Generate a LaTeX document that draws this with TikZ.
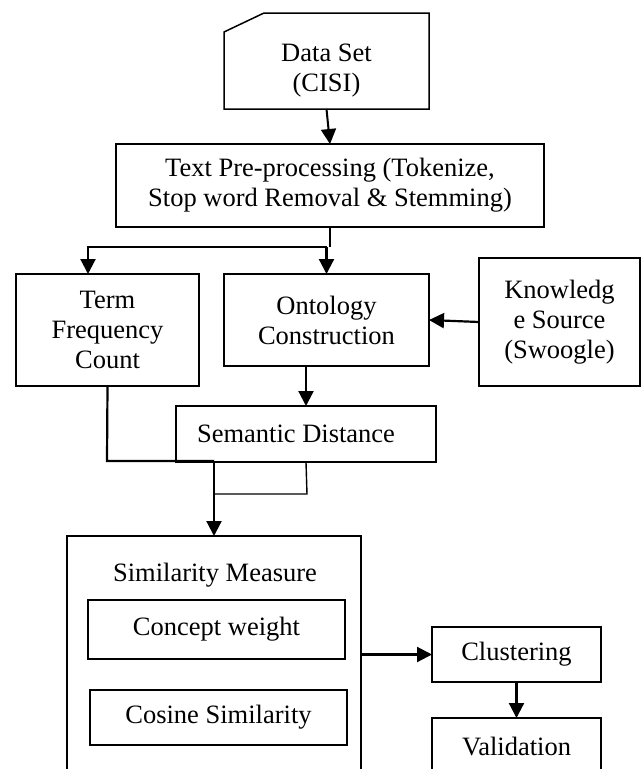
\documentclass[tikz,border=0pt]{standalone}
\usepackage{fontspec}
\setmainfont{Liberation Serif}
\usetikzlibrary{arrows.meta}
\begin{document}
\begin{tikzpicture}[x=1pt,y=-1pt,
  boxline/.style={draw=black,line width=1.5pt},
  lbl/.style={inner sep=0pt,outer sep=0pt,align=center,font=\fontsize{26.5}{30}\selectfont},
  frame/.style={lbl,rectangle},
  conn/.style={line width=2.2pt},
  thinconn/.style={line width=1.4pt},
  arr/.style={conn,-{Triangle[length=15pt,width=15pt]}},
  arrthin/.style={line width=2pt,-{Triangle[length=15pt,width=15pt]}}
]
\useasboundingbox (0,0) rectangle (642,769);
\clip (0,0) rectangle (642,769);

% Data set (card shape)
\node[frame,minimum width=205pt,minimum height=96pt] (data) at (326.5,61) {};
\draw[boxline] (data.south west) -- ++(0,-77) -- (264,13) -- (data.north east) -- (data.south east) -- cycle;
\node[lbl] (datatxt) at (326.5,71) {Data Set\\(CISI)};

% Text pre-processing
\node[frame,boxline,minimum width=428pt,minimum height=83pt] (pre) at (330,185.5) {Text Pre-processing (Tokenize,\\Stop word Removal \& Stemming)};

% second row
\node[frame,boxline,minimum width=183pt,minimum height=112pt] (term) at (107.5,330) {Term\\Frequency\\Count};
\node[frame,boxline,minimum width=205pt,minimum height=92pt] (onto) at (326.5,320) {Ontology\\Construction};
\node[frame,boxline,minimum width=161pt,minimum height=128pt] (know) at (559.5,322) {Knowledg\\e Source\\(Swoogle)};

% semantic distance
\node[frame,boxline,minimum width=260pt,minimum height=56pt] (sem) at (306,434) {};
\node[lbl] (semtxt) at (296,434) {Semantic Distance};

% similarity measure (open at bottom, cut by page)
\node[frame,minimum width=294pt,minimum height=236pt] (sim) at (214,654) {};
\draw[boxline] (67,772) -- (sim.north west) -- (sim.north east) -- (361,772);
\node[lbl] (simtxt) at (215,575) {Similarity Measure};
\node[frame,boxline,minimum width=257pt,minimum height=59pt] (concept) at (216.5,629.5) {Concept weight};
\node[frame,boxline,minimum width=257pt,minimum height=55pt] (cosine) at (218.5,717.5) {Cosine Similarity};

% clustering / validation
\node[frame,boxline,minimum width=169pt,minimum height=55pt] (clust) at (516.5,654.5) {Clustering};
\node[frame,minimum width=169pt,minimum height=57pt] (valid) at (516.5,746.5) {Validation};
\draw[boxline] (432,772) -- (valid.north west) -- (valid.north east) -- (601,772);

% connectors
\draw[arrthin] (data.south) -- (pre.north);
\coordinate (j) at (330,247);
\coordinate (tin) at (88,247);
\draw[thinconn] (pre.south) -- (j);
\draw[arr] (onto.north |- j) -| (tin) -- (tin |- term.north);
\draw[arr] (onto.north |- j) -- (onto.north);
\draw[arr] (know.west) -- (onto.east);
\draw[arr] (sem.north |- onto.south) -- (sem.north);
\draw[conn] (term.south) -- (107,461) -- (sim.north |- 0,461);
\draw[thinconn] (sem.south) -- (307,494) -- (sim.north |- 0,494);
\draw[arr] (sim.north |- 0,461) -- (sim.north);
\draw[arr] (sim.east |- clust.west) -- (clust.west);
\draw[arr] (clust.south) -- (valid.north);
\end{tikzpicture}
\end{document}
